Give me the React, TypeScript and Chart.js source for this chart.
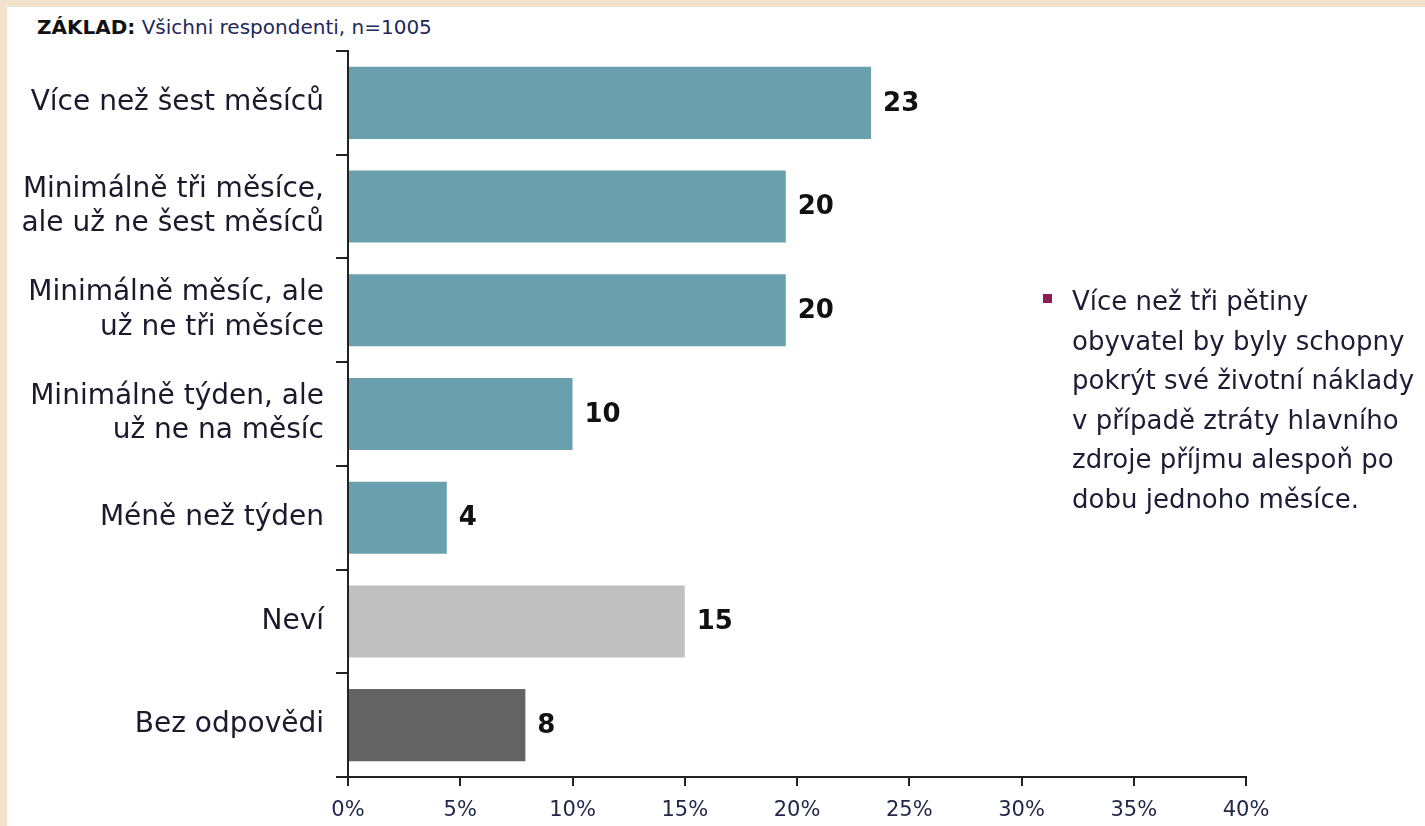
import React, { useEffect, useRef } from "react";
import { Chart, registerables } from "chart.js";

Chart.register(...registerables);

const categories: (string | string[])[] = [
  "Více než šest měsíců",
  ["Minimálně tři měsíce,", "ale už ne šest měsíců"],
  ["Minimálně měsíc, ale", "už ne tři měsíce"],
  ["Minimálně týden, ale", "už ne na měsíc"],
  "Méně než týden",
  "Neví",
  "Bez odpovědi",
];
const values = [23.3, 19.5, 19.5, 10.0, 4.4, 15.0, 7.9];
const valueLabels = ["23", "20", "20", "10", "4", "15", "8"];
const barColors = ["#6A9FAE", "#6A9FAE", "#6A9FAE", "#6A9FAE", "#6A9FAE", "#C0C0C0", "#636363"];
const xTicks = [0, 5, 10, 15, 20, 25, 30, 35, 40];

const FONT = "'DejaVu Sans', Verdana, sans-serif";

const valueLabelPlugin = {
  id: "valueLabels",
  afterDatasetsDraw(chart: any) {
    const ctx = chart.ctx;
    const meta = chart.getDatasetMeta(0);
    ctx.save();
    ctx.font = `bold 26px ${FONT}`;
    ctx.fillStyle = "#111111";
    ctx.textAlign = "left";
    ctx.textBaseline = "middle";
    meta.data.forEach((bar: any, i: number) => {
      ctx.fillText(valueLabels[i], bar.x + 12, bar.y + 1);
    });
    ctx.restore();
  },
};

export default function App() {
  const ref = useRef<HTMLCanvasElement>(null);

  useEffect(() => {
    const prevMargin = document.body.style.margin;
    document.body.style.margin = "0";
    const chart = new Chart(ref.current!, {
      type: "bar",
      data: {
        labels: categories,
        datasets: [
          {
            data: values,
            backgroundColor: barColors,
            borderWidth: 0,
            barPercentage: 0.695,
            categoryPercentage: 1,
          },
        ],
      },
      options: {
        indexAxis: "y",
        animation: false,
        responsive: false,
        maintainAspectRatio: false,
        layout: { padding: { left: 0, top: 51, right: 179, bottom: 0 } },
        plugins: {
          legend: { display: false },
          tooltip: { enabled: false },
          title: { display: false },
        },
        scales: {
          x: {
            min: 0,
            max: 40,
            afterBuildTicks: (scale: any) => {
              scale.ticks = xTicks.map((v) => ({ value: v }));
            },
            afterFit: (scale: any) => {
              scale.height = 49;
            },
            grid: {
              drawOnChartArea: false,
              drawTicks: true,
              tickLength: 9,
              color: "#222222",
              lineWidth: 2,
            },
            border: { display: true, color: "#222222", width: 2 },
            ticks: {
              callback: (v: any) => v + "%",
              font: { family: FONT, size: 21 },
              color: "#22284A",
              padding: 12,
              maxRotation: 0,
              autoSkip: false,
            },
          },
          y: {
            afterFit: (scale: any) => {
              scale.width = 348;
            },
            grid: {
              offset: true,
              drawOnChartArea: false,
              drawTicks: true,
              tickLength: 12,
              color: "#222222",
              lineWidth: 2,
            },
            border: { display: true, color: "#222222", width: 2 },
            ticks: {
              font: { family: FONT, size: 28, lineHeight: 1.22 },
              color: "#1A1A2C",
              padding: 12,
              autoSkip: false,
            },
          },
        },
      },
      plugins: [valueLabelPlugin],
    });
    return () => {
      chart.destroy();
      document.body.style.margin = prevMargin;
    };
  }, []);

  return (
    <div style={{ position: "fixed", left: 0, top: 0, width: 1425, height: 826, background: "#F3E2CC", overflow: "hidden" }}>
      <div style={{ position: "absolute", left: 7, top: 7, right: 0, bottom: 0, background: "#FFFFFF" }} />
      <div
        style={{
          position: "absolute",
          left: 37,
          top: 17,
          fontFamily: FONT,
          fontSize: 20,
          lineHeight: "20px",
          whiteSpace: "nowrap",
          color: "#22285A",
        }}
      >
        <span style={{ fontWeight: "bold", color: "#111111" }}>ZÁKLAD:</span> Všichni respondenti, n=1005
      </div>
      <canvas ref={ref} width={1425} height={826} style={{ position: "absolute", left: 0, top: 0, width: 1425, height: 826 }} />
      <div style={{ position: "absolute", left: 1043, top: 294, width: 9, height: 9, background: "#8E1E52" }} />
      <div
        style={{
          position: "absolute",
          left: 1072,
          top: 282,
          width: 360,
          fontFamily: FONT,
          fontSize: 26,
          lineHeight: "39.5px",
          color: "#1C1C34",
          whiteSpace: "pre",
        }}
      >
        {"Více než tři pětiny\nobyvatel by byly schopny\npokrýt své životní náklady\nv případě ztráty hlavního\nzdroje příjmu alespoň po\ndobu jednoho měsíce."}
      </div>
    </div>
  );
}
